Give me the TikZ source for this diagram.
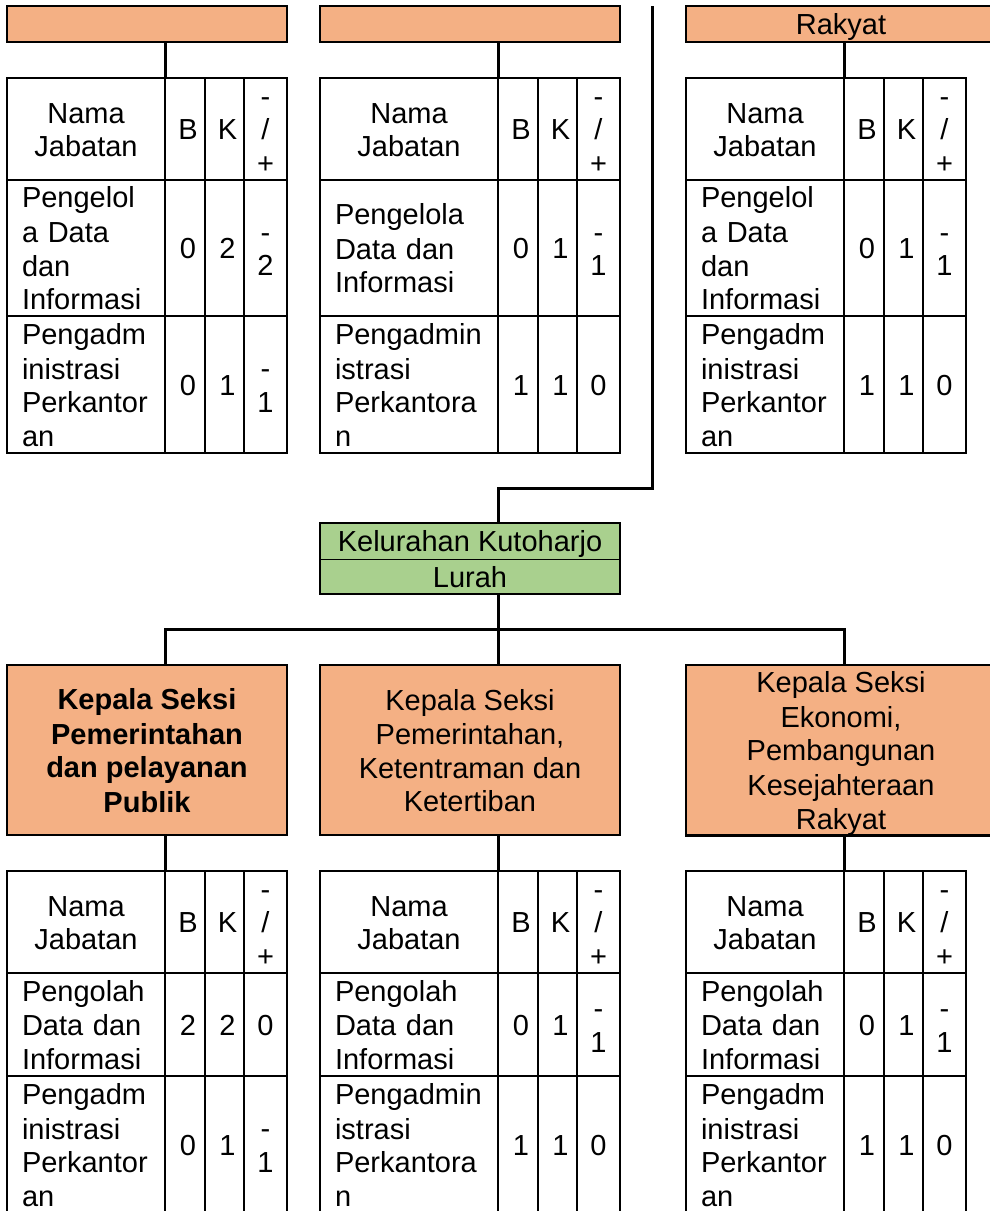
\documentclass[tikz,border=0pt]{standalone}
\usepackage{fontspec}
\setmainfont{Liberation Sans}
\newcommand\tfont{\fontsize{29}{33.5}\selectfont}
\newcommand\ls{\rule[-6pt]{0pt}{33.5pt}}
\newcommand\nsh{\hspace*{6pt}}
\definecolor{orangefill}{HTML}{F4B084}
\definecolor{greenfill}{HTML}{A9D08E}
\tikzset{
  cellbox/.style={draw, line width=2.5pt, rectangle, inner sep=0pt, outer sep=0pt, anchor=north west, font=\tfont},
  obox/.style={draw, line width=2.5pt, fill=orangefill, rectangle, inner sep=0pt, outer sep=0pt, anchor=north west, font=\tfont, align=center},
  gbox/.style={draw, line width=1pt, fill=greenfill, rectangle, inner sep=0pt, outer sep=0pt, anchor=north west, font=\tfont, minimum width=300pt},
  conn/.style={line width=3pt},
}
% header row: prefix, x0, width of first column, y
\newcommand\jhead[4]{%
  \pgfmathsetmacro\jxb{#2+#3}\pgfmathsetmacro\jxk{#2+#3+40}\pgfmathsetmacro\jxd{#2+#3+79}%
  \node[cellbox, minimum width=#3pt, minimum height=102pt, align=center] (#1n) at (#2,#4) {\ls Nama\\\ls Jabatan};
  \node[cellbox, minimum width=40pt, minimum height=102pt] (#1b) at (\jxb,#4) {\nsh\ls B};
  \node[cellbox, minimum width=39pt, minimum height=102pt] (#1k) at (\jxk,#4) {\nsh\ls K};
  \node[cellbox, minimum width=43pt, minimum height=102pt, align=center] (#1d) at (\jxd,#4) {\ls -\\\ls /\\\ls +};
}
% data row: prefix, x0, w1, y, h, name, B, K, D
\newcommand\jrow[9]{%
  \pgfmathsetmacro\jtw{#3-30}%
  \pgfmathsetmacro\jxb{#2+#3}\pgfmathsetmacro\jxk{#2+#3+40}\pgfmathsetmacro\jxd{#2+#3+79}%
  \node[cellbox, minimum width=#3pt, minimum height=#5pt, text width=\jtw pt, inner xsep=15pt, align=left] (#1n) at (#2,#4) {#6};
  \node[cellbox, minimum width=40pt, minimum height=#5pt] (#1b) at (\jxb,#4) {\nsh\ls #7};
  \node[cellbox, minimum width=39pt, minimum height=#5pt] (#1k) at (\jxk,#4) {\nsh\ls #8};
  \node[cellbox, minimum width=43pt, minimum height=#5pt, align=center] (#1d) at (\jxd,#4) {#9};
}
\begin{document}
\begin{tikzpicture}[x=1pt, y=-1pt]
\fill[white] (0,0) rectangle (989,1211);
\useasboundingbox (0,0) rectangle (989,1211);

% ---------- top orange boxes ----------
\node[obox, minimum width=280pt, minimum height=36pt] (tob1) at (7,6) {};
\node[obox, minimum width=300pt, minimum height=36pt] (tob2) at (320,6) {};
\node[obox, minimum width=310pt, minimum height=36pt] (tob3) at (686,6) {\ls Rakyat};

% ---------- top tables ----------
\jhead{t1h}{7}{158}{78}
\jrow{t1a}{7}{158}{180}{136}{\ls Pengelol\\\ls a Data\\\ls dan\\\ls Informasi}{0}{2}{\ls -\\\ls 2}
\jrow{t1c}{7}{158}{316}{137}{\ls Pengadm\\\ls inistrasi\\\ls Perkantor\\\ls an}{0}{1}{\ls -\\\ls 1}

\jhead{t2h}{320}{178}{78}
\jrow{t2a}{320}{178}{180}{136}{\ls Pengelola\\\ls Data dan\\\ls Informasi}{0}{1}{\ls -\\\ls 1}
\jrow{t2c}{320}{178}{316}{137}{\ls Pengadmin\\\ls istrasi\\\ls Perkantora\\\ls n}{1}{1}{\ls 0}

\jhead{t3h}{686}{158}{78}
\jrow{t3a}{686}{158}{180}{136}{\ls Pengelol\\\ls a Data\\\ls dan\\\ls Informasi}{0}{1}{\ls -\\\ls 1}
\jrow{t3c}{686}{158}{316}{137}{\ls Pengadm\\\ls inistrasi\\\ls Perkantor\\\ls an}{1}{1}{\ls 0}

% ---------- green box ----------
\node[gbox, minimum height=36pt] (g1) at (320,523) {\ls Kelurahan Kutoharjo};
\node[gbox, minimum height=35pt] (g2) at (320,559) {\ls Lurah};
\draw[line width=2.5pt] (g1.north west) rectangle (g2.south east);

% ---------- bottom orange boxes ----------
\node[obox, minimum width=280pt, minimum height=170pt, font=\tfont\bfseries] (ob1) at (7,665)
  {\ls Kepala Seksi\\\ls Pemerintahan\\\ls dan pelayanan\\\ls Publik};
\node[obox, minimum width=300pt, minimum height=170pt] (ob2) at (320,665)
  {\ls Kepala Seksi\\\ls Pemerintahan,\\\ls Ketentraman dan\\\ls Ketertiban};
\node[obox, minimum width=310pt, minimum height=170pt] (ob3) at (686,665)
  {\ls Kepala Seksi\\\ls Ekonomi,\\\ls Pembangunan\\\ls Kesejahteraan\\\ls Rakyat};

% ---------- bottom tables ----------
\jhead{b1h}{7}{158}{871}
\jrow{b1a}{7}{158}{973}{103}{\ls Pengolah\\\ls Data dan\\\ls Informasi}{2}{2}{\ls 0}
\jrow{b1c}{7}{158}{1076}{137}{\ls Pengadm\\\ls inistrasi\\\ls Perkantor\\\ls an}{0}{1}{\ls -\\\ls 1}

\jhead{b2h}{320}{178}{871}
\jrow{b2a}{320}{178}{973}{103}{\ls Pengolah\\\ls Data dan\\\ls Informasi}{0}{1}{\ls -\\\ls 1}
\jrow{b2c}{320}{178}{1076}{137}{\ls Pengadmin\\\ls istrasi\\\ls Perkantora\\\ls n}{1}{1}{\ls 0}

\jhead{b3h}{686}{158}{871}
\jrow{b3a}{686}{158}{973}{103}{\ls Pengolah\\\ls Data dan\\\ls Informasi}{0}{1}{\ls -\\\ls 1}
\jrow{b3c}{686}{158}{1076}{137}{\ls Pengadm\\\ls inistrasi\\\ls Perkantor\\\ls an}{1}{1}{\ls 0}

% ---------- connectors ----------
\draw[conn] (tob1.south -| t1hn.north east) -- (t1hn.north east);
\draw[conn] (tob2.south -| t2hn.north east) -- (t2hn.north east);
\draw[conn] (tob3.south -| t3hn.north east) -- (t3hn.north east);

\coordinate (vtop) at (652,6);
\coordinate (vbend) at (652,488);
\draw[conn] (vtop) -- (vbend) -- (vbend -| t2hn.north east) -- (g1.north -| t2hn.north east);

\coordinate (hub) at (498,629);
\draw[conn] (g2.south -| hub) -- (hub);
\draw[conn] (ob1.north -| b1hn.north east) |- (hub) -| (ob3.north -| b3hn.north east);
\draw[conn] (hub) -- (ob2.north -| hub);

\draw[conn] (ob1.south -| b1hn.north east) -- (b1hn.north east);
\draw[conn] (ob2.south -| b2hn.north east) -- (b2hn.north east);
\draw[conn] (ob3.south -| b3hn.north east) -- (b3hn.north east);
\end{tikzpicture}
\end{document}
